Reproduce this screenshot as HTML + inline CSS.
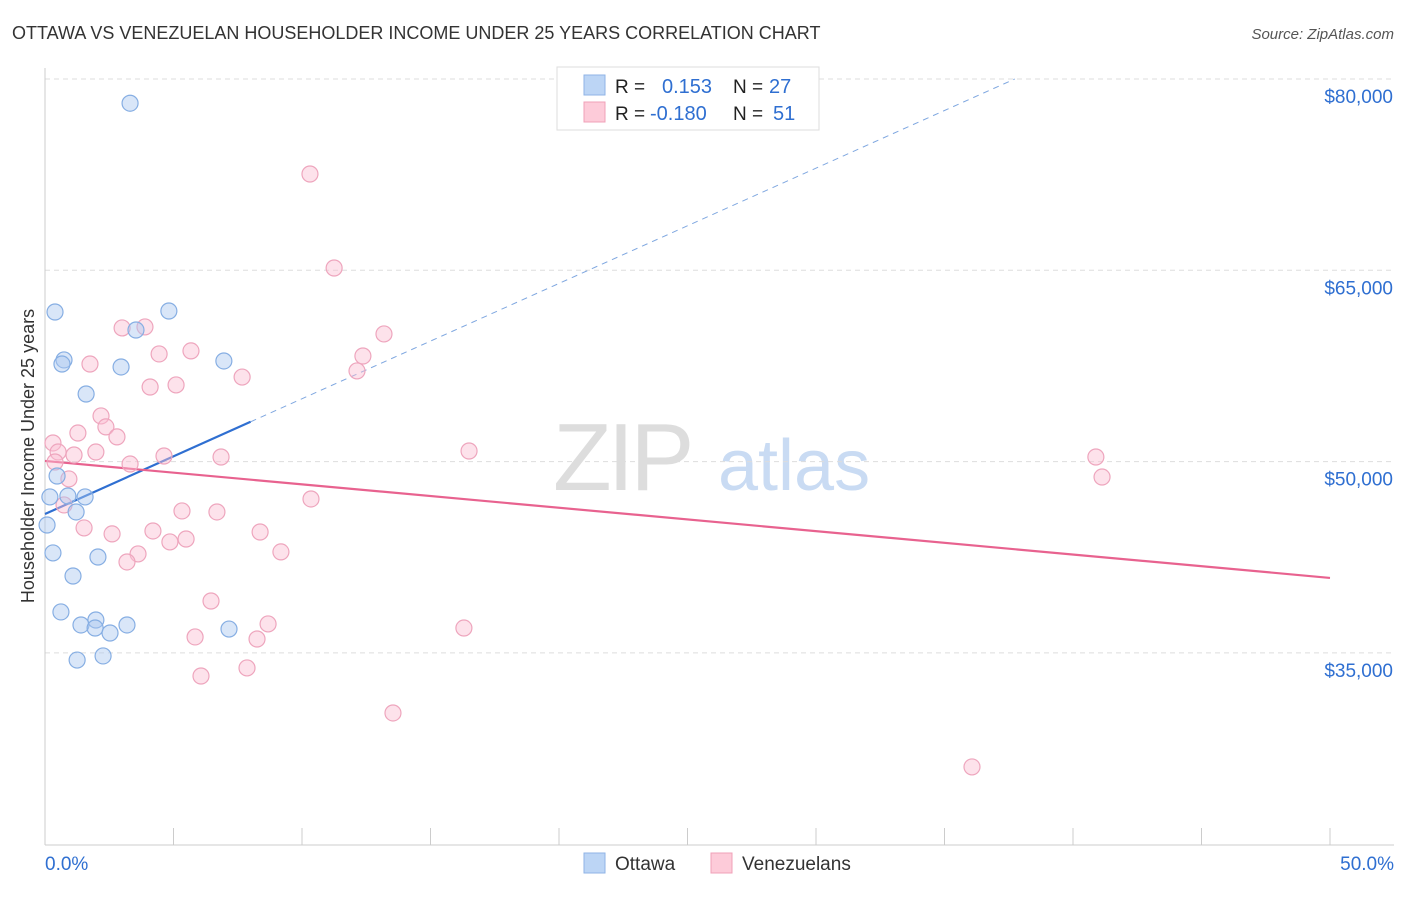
<!DOCTYPE html>
<html><head><meta charset="utf-8"><style>
body{margin:0;background:#fff;font-family:"Liberation Sans",sans-serif;}
svg text{font-family:"Liberation Sans",sans-serif;}
</style></head><body>
<svg id="chart" width="1406" height="892" xmlns="http://www.w3.org/2000/svg">
<text x="12" y="39" font-size="18" fill="#333">OTTAWA VS VENEZUELAN HOUSEHOLDER INCOME UNDER 25 YEARS CORRELATION CHART</text>
<text x="1394" y="39" font-size="15" fill="#555" text-anchor="end" font-style="italic">Source: ZipAtlas.com</text>
<text x="553" y="490" font-size="96" fill="#ddd" font-family="Liberation Serif" letter-spacing="-4">ZIP</text>
<text x="718" y="490" font-size="72" fill="#c9dbf3">atlas</text>
<text transform="translate(34,456) rotate(-90)" font-size="18" fill="#333" text-anchor="middle">Householder Income Under 25 years</text>
<g id="grid"></g><g id="axes"></g><g id="trends"></g><g id="points"></g>
<g>
<rect x="557" y="67" width="262" height="63" fill="#fff" stroke="#ddd"/>
<rect x="584" y="75" width="21" height="20" fill="#bcd5f5" stroke="#8fb3e6"/>
<rect x="584" y="102" width="21" height="20" fill="#fdcbd9" stroke="#f0a0b8"/>
<text x="615" y="93" font-size="19" fill="#222">R =</text><text x="662" y="93" font-size="20" fill="#2f6fd1">0.153</text>
<text x="733" y="93" font-size="19" fill="#222">N =</text><text x="769" y="93" font-size="20" fill="#2f6fd1">27</text>
<text x="615" y="120" font-size="19" fill="#222">R =</text><text x="650" y="120" font-size="20" fill="#2f6fd1">-0.180</text>
<text x="733" y="120" font-size="19" fill="#222">N =</text><text x="773" y="120" font-size="20" fill="#2f6fd1">51</text>
</g>
<g>
<rect x="584" y="853" width="21" height="20" fill="#bcd5f5" stroke="#8fb3e6"/>
<text x="615" y="870" font-size="19" fill="#333">Ottawa</text>
<rect x="711" y="853" width="21" height="20" fill="#fdcbd9" stroke="#f0a0b8"/>
<text x="742" y="870" font-size="19" fill="#333">Venezuelans</text>
</g>
</svg>
<script>
const yTicks=[80000,65000,50000,35000];
const yTickLabels=["$80,000","$65,000","$50,000","$35,000"];
const xTickLabels=["0.0%","50.0%"];
const ottawaX=[3.31,0.39,4.82,3.54,0.74,0.66,6.96,2.96,1.60,0.47,0.19,0.89,1.56,1.21,0.08,0.31,2.06,1.09,0.62,1.98,1.40,1.95,2.53,3.19,7.16,1.25,2.26];
const ottawaY=[78100,61730,61810,60320,57970,57650,57890,57420,55300,48870,47230,47300,47230,46050,45030,42840,42520,41030,38210,37580,37190,36950,36560,37190,36870,34440,34760];
const venX=[10.31,11.25,3.00,3.89,13.19,5.68,4.44,12.37,1.75,12.14,7.67,4.09,5.10,2.18,2.37,2.80,0.31,1.28,0.51,1.13,1.98,4.63,6.85,3.31,16.50,40.89,41.13,0.93,0.74,10.35,5.33,6.69,1.52,2.61,4.20,4.86,5.49,8.37,3.62,3.19,9.18,6.46,8.68,5.84,8.25,16.30,6.07,7.86,13.54,36.07,0.39];
const venY=[72550,65180,60480,60560,60010,58680,58440,58280,57650,57110,56630,55850,56010,53580,52720,51940,51460,52240,50750,50520,50750,50440,50360,49810,50830,50360,48790,48640,46600,47070,46130,46050,44800,44330,44560,43700,43930,44480,42760,42130,42920,39070,37270,36250,36090,36950,33190,33820,30290,26060,49970];
const ottawaTrend=[45890,904];
const venTrend=[50050,40880];
const NS="http://www.w3.org/2000/svg";
const sx=v=>45+v*25.7;
const sy=v=>79+(80000-v)*191.3/15000;
function mk(tag,attrs,parent){const e=document.createElementNS(NS,tag);for(const k in attrs)e.setAttribute(k,attrs[k]);document.getElementById(parent).appendChild(e);return e;}
yTicks.forEach((t,i)=>{
 const l=mk('line',{x1:45,x2:1394,y1:sy(t),y2:sy(t),stroke:'#ddd','stroke-dasharray':'5,4'},'grid');
 
 
 const tx=mk('text',{x:1393,y:sy(t)+24,'font-size':19,fill:'#2f6fd1','text-anchor':'end'},'grid');
 tx.textContent=yTickLabels[i];
 
 
});
const ax=mk('line',{x1:45,x2:1394,y1:845,y2:845,stroke:'#ccc'},'axes');


const ay=mk('line',{x1:45,x2:45,y1:68,y2:845,stroke:'#ccc'},'axes');


for(let p=0;p<=50;p+=5){
 const t=mk('line',{x1:sx(p),x2:sx(p),y1:828,y2:845,stroke:'#ccc'},'axes');
 
 
}
[[0,'start',45],[50,'end',1394]].forEach((d,i)=>{
 const t=mk('text',{x:d[2],y:870,'font-size':19,fill:'#2f6fd1','text-anchor':d[1]},'axes');
 t.textContent=xTickLabels[i];
 
 
});
const bEnd=8; const bDashEnd=(80000-ottawaTrend[0])/ottawaTrend[1];
const b1=mk('line',{x1:sx(0),y1:sy(ottawaTrend[0]),x2:sx(bEnd),y2:sy(ottawaTrend[0]+ottawaTrend[1]*bEnd),stroke:'#2f6fd1','stroke-width':2.2},'trends');


const b2=mk('line',{x1:sx(bEnd),y1:sy(ottawaTrend[0]+ottawaTrend[1]*bEnd),x2:sx(bDashEnd),y2:sy(ottawaTrend[0]+ottawaTrend[1]*bDashEnd),stroke:'#7fa7e0','stroke-width':1,'stroke-dasharray':'6,5'},'trends');


const p1=mk('line',{x1:sx(0),y1:sy(venTrend[0]),x2:sx(50),y2:sy(venTrend[1]),stroke:'#e8628f','stroke-width':2.2},'trends');


venX.forEach((x,i)=>{
 const c=mk('circle',{cx:sx(x),cy:sy(venY[i]),r:8,fill:'rgba(250,190,210,0.45)',stroke:'#eea5bd','stroke-width':1.2},'points');
 
 
});
ottawaX.forEach((x,i)=>{
 const c=mk('circle',{cx:sx(x),cy:sy(ottawaY[i]),r:8,fill:'rgba(170,200,240,0.45)',stroke:'#86aee3','stroke-width':1.2},'points');
 
 
});
</script>
</body></html>
